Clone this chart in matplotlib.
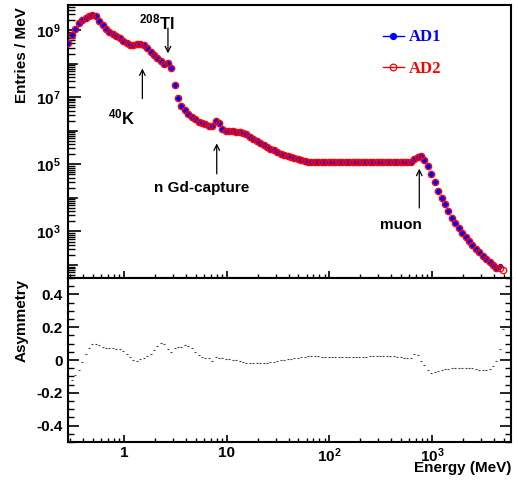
import numpy as np
import matplotlib
matplotlib.use("Agg")
import matplotlib.pyplot as plt
from matplotlib.ticker import LogLocator, FuncFormatter, NullFormatter, MultipleLocator, FixedLocator
from matplotlib.lines import Line2D

plt.rcParams['font.family'] = ['Liberation Sans', 'DejaVu Sans']
plt.rcParams['font.weight'] = 'bold'
plt.rcParams['axes.unicode_minus'] = False
plt.rcParams['mathtext.fontset'] = 'custom'
plt.rcParams['mathtext.rm'] = 'Liberation Sans:bold'
plt.rcParams['mathtext.bf'] = 'Liberation Sans:bold'
plt.rcParams['mathtext.it'] = 'Liberation Sans:bold'

# ---- histogram binning: 30 equal-log bins per decade ----
first_bin_log10 = -0.541
bins_per_decade = 30
n_bins = 128

# ---- spectrum (log10 of entries / MeV) ----
ad1_log10 = [
    8.62, 8.85, 9.04, 9.20, 9.29, 9.36, 9.41, 9.46, 9.42, 9.28,
    9.14, 9.02, 8.94, 8.88, 8.83, 8.76, 8.69, 8.62, 8.57, 8.56,
    8.58, 8.60, 8.55, 8.46, 8.36, 8.25, 8.16, 8.07, 7.98, 8.01,
    7.86, 7.37, 6.98, 6.74, 6.61, 6.51, 6.42, 6.34, 6.27, 6.23,
    6.19, 6.15, 6.15, 6.28, 6.22, 6.06, 6.00, 5.98, 5.98, 5.97,
    5.96, 5.94, 5.89, 5.82, 5.76, 5.70, 5.64, 5.58, 5.53, 5.47,
    5.42, 5.37, 5.32, 5.27, 5.24, 5.21, 5.18, 5.16, 5.14, 5.11,
    5.08, 5.08, 5.07, 5.07, 5.07, 5.07, 5.07, 5.07, 5.07, 5.07,
    5.07, 5.07, 5.07, 5.07, 5.07, 5.07, 5.08, 5.08, 5.08, 5.08,
    5.08, 5.08, 5.08, 5.08, 5.08, 5.08, 5.08, 5.08, 5.08, 5.07,
    5.08, 5.15, 5.22, 5.24, 5.12, 4.94, 4.70, 4.46, 4.22, 4.01,
    3.81, 3.60, 3.41, 3.25, 3.11, 2.96, 2.83, 2.72, 2.60, 2.49,
    2.38, 2.28, 2.18, 2.08, 1.99, 1.92, 1.98, np.nan]

ad2_log10 = [
    8.62, 8.85, 9.04, 9.20, 9.29, 9.36, 9.41, 9.46, 9.42, 9.28,
    9.14, 9.02, 8.94, 8.88, 8.83, 8.76, 8.69, 8.62, 8.57, 8.56,
    8.58, 8.60, 8.55, 8.46, 8.36, 8.25, 8.16, 8.07, 7.98, 8.01,
    7.86, 7.37, 6.98, 6.74, 6.61, 6.51, 6.42, 6.34, 6.27, 6.23,
    6.19, 6.15, 6.15, 6.28, 6.22, 6.06, 6.00, 5.98, 5.98, 5.97,
    5.96, 5.94, 5.89, 5.82, 5.76, 5.70, 5.64, 5.58, 5.53, 5.47,
    5.42, 5.37, 5.32, 5.27, 5.24, 5.21, 5.18, 5.16, 5.14, 5.11,
    5.08, 5.08, 5.07, 5.07, 5.07, 5.07, 5.07, 5.07, 5.07, 5.07,
    5.07, 5.07, 5.07, 5.07, 5.07, 5.07, 5.08, 5.08, 5.08, 5.08,
    5.08, 5.08, 5.08, 5.08, 5.08, 5.08, 5.08, 5.08, 5.08, 5.07,
    5.08, 5.15, 5.22, 5.24, 5.12, 4.94, 4.70, 4.46, 4.22, 4.01,
    3.81, 3.60, 3.41, 3.25, 3.11, 2.96, 2.83, 2.72, 2.60, 2.49,
    2.38, 2.28, 2.18, 2.08, 1.99, 1.92, 1.92, 1.84]

# ---- asymmetry per bin ----
asymmetry = [
    -0.150, -0.120, -0.090, -0.062, -0.015, 0.035, 0.076, 0.095, 0.099, 0.090,
    0.080, 0.073, 0.072, 0.072, 0.070, 0.066, 0.052, 0.037, 0.020, 0.002,
    -0.004, 0.004, 0.013, 0.022, 0.037, 0.060, 0.088, 0.106, 0.095, 0.065,
    0.050, 0.076, 0.080, 0.082, 0.089, 0.088, 0.072, 0.048, 0.030, 0.020,
    0.015, 0.012, -0.008, 0.018, 0.014, 0.011, 0.008, 0.005, 0.001, -0.003,
    -0.008, -0.014, -0.018, -0.020, -0.020, -0.021, -0.020, -0.018, -0.016, -0.013,
    -0.010, -0.006, -0.002, 0.001, 0.004, 0.007, 0.010, 0.013, 0.016, 0.019,
    0.022, 0.024, 0.025, 0.023, 0.021, 0.020, 0.018, 0.017, 0.017, 0.017,
    0.018, 0.017, 0.017, 0.018, 0.019, 0.019, 0.020, 0.020, 0.022, 0.023,
    0.024, 0.026, 0.027, 0.026, 0.024, 0.022, 0.020, 0.017, 0.014, 0.011,
    0.012, 0.036, 0.028, -0.005, -0.033, -0.058, -0.080, -0.076, -0.069, -0.062,
    -0.056, -0.052, -0.050, -0.048, -0.047, -0.047, -0.046, -0.047, -0.050, -0.054,
    -0.058, -0.060, -0.062, -0.053, -0.034, -0.004, 0.066, 0.189]

series_labels = ["AD1", "AD2"]
x_tick_values = [1, 10, 100, 1000]
x_tick_labels = ["1", "10", r"$\mathbf{10^{2}}$", r"$\mathbf{10^{3}}$"]
y_label_decades = [3, 5, 7, 9]
asym_ticks = [-0.4, -0.2, 0, 0.2, 0.4]
asym_tick_labels = ["-0.4", "-0.2", "0", "0.2", "0.4"]

energy = 10 ** (first_bin_log10 + np.arange(n_bins) / bins_per_decade)
ad1 = 10 ** np.array(ad1_log10)
ad2 = 10 ** np.array(ad2_log10)

W, H = 518, 480
fig = plt.figure(figsize=(W / 100, H / 100), dpi=100)

def px_axes(l, t, r, b):
    return [l / W, 1 - b / H, (r - l) / W, (b - t) / H]

ax1 = fig.add_axes(px_axes(68, 5, 511, 278))
ax2 = fig.add_axes(px_axes(68, 278, 511, 442), sharex=ax1)

xlim = (0.2851, 5861)

# top panel
ax1.plot(energy, ad1, 'o', color='blue', ms=2.8, mec='blue', zorder=3)
ax1.plot(energy, ad2, 'o', mfc='none', mec='red', mew=0.9, ms=4.6, zorder=4)
ax1.set_xscale('log')
ax1.set_yscale('log')
ax1.set_xlim(*xlim)
ax1.set_ylim(41, 5.6e9)

# long ticks at every decade, labels only at odd decades
ax1.yaxis.set_major_locator(FixedLocator([10.0 ** e for e in y_label_decades]))
ax1.yaxis.set_major_formatter(FuncFormatter(lambda v, pos: r"$\mathbf{10^{%d}}$" % int(round(np.log10(v)))))
ax1.yaxis.set_minor_locator(LogLocator(base=10, subs=np.arange(2, 10), numticks=20))
ax1.yaxis.set_minor_formatter(NullFormatter())
for e in range(2, 10):
    if e not in y_label_decades:
        ax1.plot([0, 9 / 443], [10.0 ** e] * 2, color='black', lw=1.2,
                 transform=ax1.get_yaxis_transform(), clip_on=False, zorder=5)
ax1.tick_params(axis='y', which='major', direction='in', length=9, width=1.2, labelsize=11, pad=5, right=False)
ax1.tick_params(axis='y', which='minor', direction='in', length=5, width=1.0, right=False)
ax1.tick_params(axis='x', which='major', direction='in', length=5, width=1.2, labelbottom=False, top=False)
ax1.tick_params(axis='x', which='minor', direction='in', length=3, width=1.0, top=False)

# bottom panel
ax2.plot(energy, asymmetry, '_', color='#444444', ms=2.0, mew=0.8)
ax2.set_ylim(-0.5, 0.5)
ax2.set_xlim(*xlim)
ax2.set_yticks(asym_ticks)
ax2.set_yticklabels(asym_tick_labels)
ax2.yaxis.set_minor_locator(MultipleLocator(0.05))
ax2.set_xticks(x_tick_values)
ax2.set_xticklabels(x_tick_labels)
ax2.xaxis.set_minor_locator(LogLocator(base=10, subs=np.arange(2, 10), numticks=20))
ax2.xaxis.set_minor_formatter(NullFormatter())
ax2.tick_params(axis='y', which='major', direction='in', length=8, width=1.2, labelsize=11, pad=4, right=True)
ax2.tick_params(axis='y', which='minor', direction='in', length=4, width=1.0, right=True)
ax2.tick_params(axis='x', which='major', direction='in', length=5, width=1.2, labelsize=11, pad=3, top=False)
ax2.tick_params(axis='x', which='minor', direction='in', length=3, width=1.0, top=False)

for ax in (ax1, ax2):
    for s in ax.spines.values():
        s.set_linewidth(1.5)
    for lab in ax.get_xticklabels() + ax.get_yticklabels():
        lab.set_fontweight('bold')

# annotations
arrow = dict(arrowstyle='->', color='black', lw=0.9, shrinkA=0, shrinkB=0)
ax1.annotate('', xy=(2.68, 2.04e8), xytext=(2.68, 1.15e9), arrowprops=arrow)
ax1.annotate('', xy=(1.51, 7.2e7), xytext=(1.51, 9.1e6), arrowprops=arrow)
ax1.annotate('', xy=(8.0, 4.2e5), xytext=(8.0, 5.2e4), arrowprops=arrow)
ax1.annotate('', xy=(750, 7.4e4), xytext=(750, 5.0e3), arrowprops=arrow)

ax1.text(2.10, 1.75e9, r"$\mathbf{{}^{208}Tl}$", ha='center', va='center', fontsize=12)
ax1.text(0.957, 2.48e6, r"$\mathbf{{}^{40}K}$", ha='center', va='center', fontsize=12)
ax1.text(5.75, 2.0e4, "n Gd-capture", ha='center', va='center', fontsize=11, fontweight='bold')
ax1.text(498, 1.55e3, "muon", ha='center', va='center', fontsize=11, fontweight='bold')

# legend
handles = [Line2D([], [], color='blue', lw=1, marker='o', ms=4.2, mfc='blue', mec='blue'),
           Line2D([], [], color='red', lw=1, marker='o', ms=4.8, mfc='none', mec='red', mew=0.9)]
leg = ax1.legend(handles, series_labels, loc='upper left', bbox_to_anchor=(0.695, 0.935),
                 frameon=False, handlelength=1.3, handletextpad=0.25, labelspacing=0.95,
                 borderaxespad=0, prop={'family': 'Liberation Serif', 'weight': 'bold', 'size': 12},
                 labelcolor=['blue', 'red'])

# axis labels
fig.text(22 / W, 1 - 55 / H, "Entries / MeV", rotation=90, ha='center', va='center',
         fontsize=11, fontweight='bold')
fig.text(22 / W, 1 - 320 / H, "Asymmetry", rotation=90, ha='center', va='center',
         fontsize=11, fontweight='bold')
fig.text(511 / W, 1 - 468 / H, "Energy (MeV)", ha='right', va='center',
         fontsize=11, fontweight='bold')

fig.savefig("out.png", dpi=100)
